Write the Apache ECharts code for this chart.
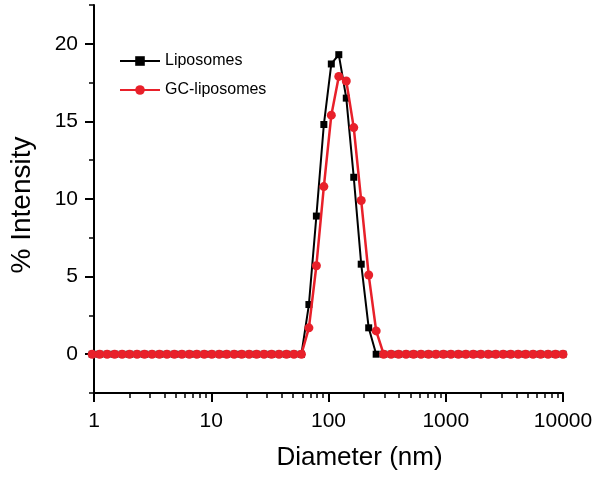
<!DOCTYPE html>
<html>
<head>
<meta charset="utf-8">
<script src="https://cdn.jsdelivr.net/npm/echarts@6/dist/echarts.min.js"></script>
<style>html,body{margin:0;padding:0;background:#fff}#c{width:600px;height:480px}</style>
</head>
<body>
<div id="c"></div>
<script>
// Diameter bins (nm)
const diameters = [0.9649, 1.117, 1.294, 1.499, 1.736, 2.010, 2.328, 2.696, 3.122, 3.615,
  4.187, 4.849, 5.615, 6.503, 7.531, 8.721, 10.10, 11.70, 13.54, 15.69,
  18.17, 21.04, 24.36, 28.21, 32.67, 37.84, 43.82, 50.75, 58.77, 68.06,
  78.82, 91.28, 105.7, 122.4, 141.8, 164.2, 190.1, 220.2, 255.0, 295.3,
  342.0, 396.1, 458.7, 531.2, 615.1, 712.4, 825.0, 955.4, 1106, 1281,
  1484, 1718, 1990, 2305, 2669, 3091, 3580, 4145, 4801, 5560,
  6439, 7456, 8635, 10000];
// % Intensity, Liposomes
const liposomes = [0, 0, 0, 0, 0, 0, 0, 0, 0, 0,
  0, 0, 0, 0, 0, 0, 0, 0, 0, 0,
  0, 0, 0, 0, 0, 0, 0, 0, 0, 3.2,
  8.9, 14.8, 18.7, 19.3, 16.5, 11.4, 5.8, 1.7, 0, 0,
  0, 0, 0, 0, 0, 0, 0, 0, 0, 0,
  0, 0, 0, 0, 0, 0, 0, 0, 0, 0,
  0, 0, 0, 0];
// % Intensity, GC-liposomes
const gcLiposomes = [0, 0, 0, 0, 0, 0, 0, 0, 0, 0,
  0, 0, 0, 0, 0, 0, 0, 0, 0, 0,
  0, 0, 0, 0, 0, 0, 0, 0, 0, 1.7,
  5.7, 10.8, 15.4, 17.9, 17.6, 14.6, 9.9, 5.1, 1.5, 0,
  0, 0, 0, 0, 0, 0, 0, 0, 0, 0,
  0, 0, 0, 0, 0, 0, 0, 0, 0, 0,
  0, 0, 0, 0];
// Tick values
const xMajorTicks = [1, 10, 100, 1000, 10000];
const yMajorTicks = [0, 5, 10, 15, 20];
const yMinorTicks = [-2.5, 2.5, 7.5, 12.5, 17.5, 22.5];

const FONT = 'Liberation Sans, Arial, sans-serif';
const RED = '#e8202a';

const chart = echarts.init(document.getElementById('c'));
chart.setOption({
  animation: false,
  backgroundColor: '#fff',
  textStyle: { fontFamily: FONT },
  grid: { left: 92, right: 37, top: 5, bottom: 87, containLabel: false },
  legend: {
    orient: 'vertical', left: 114, top: 48,
    itemWidth: 40, itemHeight: 12, itemGap: 13,
    textStyle: { fontFamily: FONT, fontSize: 16, color: '#000' },
    data: ['Liposomes', 'GC-liposomes']
  },
  xAxis: {
    type: 'log', logBase: 10, min: 1, max: 10000,
    name: 'Diameter (nm)', nameLocation: 'middle', nameGap: 52,
    nameTextStyle: { fontFamily: FONT, fontSize: 26, color: '#000', padding: [0, 0, 0, 62] },
    axisLine: { show: true, onZero: false, lineStyle: { color: '#000', width: 2 } },
    axisTick: { show: true, customValues: xMajorTicks, length: 9, lineStyle: { color: '#000', width: 2 } },
    minorTick: { show: true, splitNumber: 9, length: 5, lineStyle: { color: '#000', width: 1.5 } },
    axisLabel: { customValues: xMajorTicks, margin: 18, fontFamily: FONT, fontSize: 21, color: '#000',
      formatter: v => String(Math.round(v)) },
    splitLine: { show: false }, minorSplitLine: { show: false }
  },
  yAxis: [{
    type: 'value', min: -2.5, max: 22.5, interval: 2.5,
    name: '% Intensity', nameLocation: 'middle', nameGap: 58,
    nameTextStyle: { fontFamily: FONT, fontSize: 28, color: '#000', padding: [0, 12, 0, 0] },
    axisLine: { show: true, onZero: false, lineStyle: { color: '#000', width: 2 } },
    axisTick: { show: true, customValues: yMajorTicks, length: 9, lineStyle: { color: '#000', width: 2 } },
    axisLabel: { customValues: yMajorTicks, margin: 16, fontFamily: FONT, fontSize: 21, color: '#000' },
    splitLine: { show: false }
  }, {
    type: 'value', min: -2.5, max: 22.5, interval: 2.5, position: 'left',
    axisLine: { show: false, onZero: false },
    axisTick: { show: true, customValues: yMinorTicks, length: 5, lineStyle: { color: '#000', width: 1.5 } },
    axisLabel: { show: false },
    splitLine: { show: false }
  }],
  series: [{
    name: 'Liposomes', type: 'line', clip: false,
    data: diameters.map((d, i) => [d, liposomes[i]]),
    symbol: 'rect', symbolSize: 7,
    itemStyle: { color: '#000' },
    lineStyle: { color: '#000', width: 2 },
    z: 2
  }, {
    name: 'GC-liposomes', type: 'line', clip: false,
    data: diameters.map((d, i) => [d, gcLiposomes[i]]),
    symbol: 'circle', symbolSize: 9,
    itemStyle: { color: RED },
    lineStyle: { color: RED, width: 2.5 },
    z: 3
  }]
});
</script>
</body>
</html>
